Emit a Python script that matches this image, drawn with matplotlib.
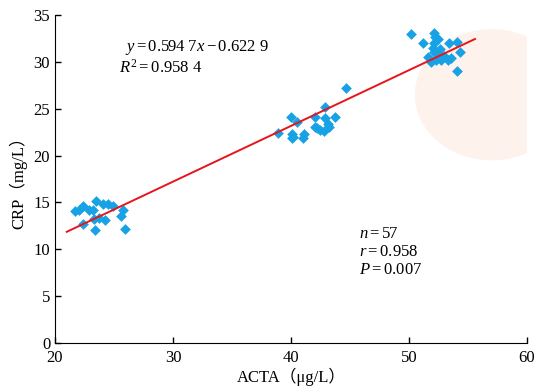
import numpy as np
import matplotlib.pyplot as plt
from matplotlib.patches import Ellipse

plt.rcParams['font.family'] = ['Liberation Serif', 'Noto Sans CJK SC']
plt.rcParams['mathtext.fontset'] = 'custom'
plt.rcParams['mathtext.rm'] = 'Liberation Serif'
plt.rcParams['mathtext.it'] = 'Liberation Serif:italic'

# ACTA (ug/L) vs CRP (mg/L), three groups
acta_low = [21.7, 22.0, 22.4, 22.9, 23.2, 23.5, 23.3, 23.7, 24.1, 24.2, 24.5, 24.9, 25.6, 25.8, 22.4, 23.4, 25.9]
crp_low = [14.1, 14.2, 14.6, 14.2, 14.2, 15.1, 13.2, 13.3, 14.8, 13.1, 14.8, 14.6, 13.5, 14.2, 12.7, 12.1, 12.2]

acta_mid = [38.9, 40.0, 40.05, 40.1, 40.5, 41.05, 41.1, 42.0, 42.0, 42.5, 42.8, 42.9, 42.9, 43.1, 43.2, 43.7, 44.7, 42.2, 40.2]
crp_mid = [22.4, 24.1, 21.9, 22.3, 23.6, 21.9, 22.3, 23.1, 24.1, 22.7, 22.6, 25.2, 24.0, 23.4, 23.0, 24.1, 27.2, 22.9, 22.0]

acta_high = [50.2, 51.2, 52.1, 52.2, 52.1, 53.4, 54.1, 54.3, 51.6, 52.1, 52.3, 52.6, 52.7, 53.3, 53.6, 54.1, 51.9, 52.6, 52.5, 52.0, 53.0]
crp_high = [33.0, 32.0, 33.1, 32.7, 32.0, 32.0, 32.1, 31.1, 30.5, 31.1, 30.2, 30.7, 30.2, 30.2, 30.4, 29.0, 30.0, 31.4, 32.4, 31.5, 30.6]

slope = 0.5947
intercept = -0.6229
line_x = [21.0, 55.6]

fig = plt.figure(figsize=(5.36, 3.87), dpi=100)
ax = fig.add_axes([0.1026, 0.1137, 0.8805, 0.8475])

# faint background blob (watermark)
ax.add_patch(Ellipse((57.0, 26.5), 13, 14, color='#FDF2EC', zorder=0, lw=0))

acta = acta_low + acta_mid + acta_high
crp = crp_low + crp_mid + crp_high
ax.scatter(acta, crp, marker='D', s=30, color='#17A2E6', lw=0, zorder=3)

ly = [slope * v + intercept for v in line_x]
ax.plot(line_x, ly, color='#E8141C', lw=1.4, zorder=4)

fs = 12
ax.text(25.9, 31.5, r'$y=0.594\ 7x-0.622\ 9$', fontsize=fs, va='center', zorder=5)
ax.text(25.4, 29.35, r'$R^2=0.958\ 4$', fontsize=fs, va='center', zorder=5)
ax.text(45.8, 11.6, r'$n=57$', fontsize=fs, va='center', zorder=5)
ax.text(45.8, 9.7, r'$r=0.958$', fontsize=fs, va='center', zorder=5)
ax.text(45.8, 7.8, r'$P=0.007$', fontsize=fs, va='center', zorder=5)

ax.set_xlim(20, 60)
ax.set_ylim(0, 35)
ax.set_xticks([20, 30, 40, 50, 60])
ax.set_yticks([0, 5, 10, 15, 20, 25, 30, 35])
ax.tick_params(direction='in', length=4, labelsize=12, width=1)
ax.tick_params(axis='x', pad=5)
ax.spines['top'].set_visible(False)
ax.spines['right'].set_visible(False)
ax.set_facecolor('none')
ax.set_xlabel('ACTA（μg/L）', fontsize=12, labelpad=1)
ax.set_ylabel('CRP（mg/L）', fontsize=12, labelpad=4)

fig.savefig('out.png', dpi=100)
